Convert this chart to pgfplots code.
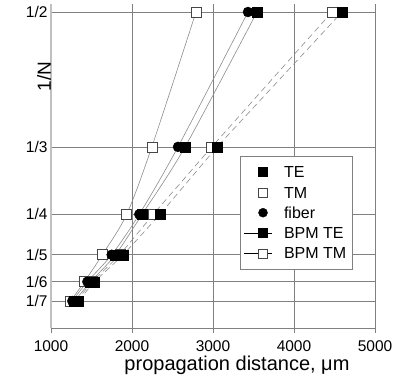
\documentclass[border=0pt]{standalone}
\usepackage{pgfplots}
\pgfplotsset{compat=1.18}
\usepackage{fontspec}
\setmainfont{Liberation Sans}
\definecolor{gridgray}{RGB}{128,128,128}
\definecolor{axgray}{RGB}{192,192,192}
\definecolor{linegray}{RGB}{140,140,140}
\definecolor{mkgray}{RGB}{70,70,70}
\begin{document}
\begin{tikzpicture}
\begin{axis}[
  scale only axis, width=324pt, height=324pt,
  xmin=1000, xmax=5000, ymin=0.1095, ymax=0.5099,
  axis x line*=bottom, axis y line*=left,
  x axis line style={draw=gridgray, line width=0.6pt, -},
  y axis line style={draw=axgray, line width=1.6pt, -},
  xtick={1000,2000,3000,4000,5000},
  ytick={0.142857,0.166667,0.2,0.25,0.333333,0.5},
  yticklabels={1/7,1/6,1/5,1/4,1/3,1/2},
  grid=major, major grid style={draw=gridgray, line width=0.6pt},
  xtick align=outside, major tick length=5pt,
  x tick style={draw=gridgray, line width=0.6pt},
  y tick style={draw=none},
  /pgf/number format/.cd, 1000 sep={}, assume math mode=true, /pgfplots/.cd,
  tick label style={font=\fontsize{15.5}{18}\selectfont, text=black},
  xticklabel style={yshift=-4pt},
  xlabel={propagation distance, μm},
  xlabel style={font=\fontsize{20}{24}\selectfont, at={(axis description cs:0.574,0)}, anchor=base, yshift=-42pt},
  ylabel={1/N},
  ylabel style={font=\fontsize{19}{23}\selectfont, at={(axis description cs:0,0.832)}, anchor=base, xshift=-18pt},
  legend style={at={(axis description cs:0.582,0.531)}, anchor=north west, draw=gridgray, fill=white,
    font=\fontsize{16}{19}\selectfont, row sep=0pt, inner xsep=4pt, inner ysep=5.8pt,
    nodes={text height=13.8pt, text depth=2.5pt, inner sep=2pt}},
  legend cell align=left,
]
% fit lines
\addplot[linegray, line width=0.6pt, smooth, forget plot] coordinates {(1243,0.142857) (1412,0.166667) (1634,0.2) (1934,0.25) (2245,0.333333) (2790,0.5)};
\addplot[linegray, line width=0.6pt, smooth, forget plot] coordinates {(1263,0.142857) (1449,0.166667) (1749,0.2) (2090,0.25) (2568,0.333333) (3432,0.5)};
\addplot[linegray, line width=0.6pt, smooth, forget plot] coordinates {(1290,0.142857) (1490,0.166667) (1795,0.2) (2125,0.25) (2655,0.333333) (3543,0.5)};
\addplot[linegray, line width=0.6pt, dashed, dash pattern=on 6pt off 4pt, forget plot] coordinates {(1310,0.142857) (1510,0.166667) (1850,0.2) (2263,0.25) (2985,0.333333) (4469,0.5)};
\addplot[linegray, line width=0.6pt, dashed, dash pattern=on 6pt off 4pt, forget plot] coordinates {(1337,0.142857) (1535,0.166667) (1893,0.2) (2346,0.25) (3050,0.333333) (4593,0.5)};
% BPM TM
\addplot[only marks, mark=square*, mark size=5pt, mark options={draw=mkgray, fill=white, line width=0.6pt}, forget plot] coordinates {(1310,0.142857) (1510,0.166667) (1850,0.2) (2263,0.25) (2985,0.333333) (4469,0.5)};
% BPM TE
\addplot[only marks, mark=square*, mark size=5pt, mark options={draw=black, fill=black}, forget plot] coordinates {(1337,0.142857) (1535,0.166667) (1893,0.2) (2346,0.25) (3050,0.333333) (4593,0.5)};
% TM
\addplot[only marks, mark=square*, mark size=5pt, mark options={draw=mkgray, fill=white, line width=0.6pt}, forget plot] coordinates {(1243,0.142857) (1412,0.166667) (1634,0.2) (1934,0.25) (2245,0.333333) (2790,0.5)};
% fiber
\addplot[only marks, mark=*, mark size=5pt, mark options={draw=black, fill=black}, forget plot] coordinates {(1263,0.142857) (1449,0.166667) (1749,0.2) (2090,0.25) (2568,0.333333) (3432,0.5)};
% TE
\addplot[only marks, mark=square*, mark size=5pt, mark options={draw=black, fill=black}, forget plot] coordinates {(1290,0.142857) (1490,0.166667) (1795,0.2) (2125,0.25) (2655,0.333333) (3543,0.5)};
% legend
\addlegendimage{legend image code/.code={\path[draw=none,fill=none] (0pt,0pt) rectangle (38pt,0pt); \draw[black, fill=black, mark size=4.5pt] plot[mark=square*] coordinates {(19pt,0pt)};}}
\addlegendentry{TE}
\addlegendimage{legend image code/.code={\path[draw=none,fill=none] (0pt,0pt) rectangle (38pt,0pt); \draw[mkgray, fill=white, line width=0.6pt, mark size=4.5pt] plot[mark=square*] coordinates {(19pt,0pt)};}}
\addlegendentry{TM}
\addlegendimage{legend image code/.code={\path[draw=none,fill=none] (0pt,0pt) rectangle (38pt,0pt); \draw[black, fill=black, mark size=4.5pt] plot[mark=*] coordinates {(19pt,0pt)};}}
\addlegendentry{fiber}
\addlegendimage{legend image code/.code={\path[draw=none,fill=none] (0pt,0pt) rectangle (38pt,0pt); \draw[black, line width=0.5pt] (0pt,0pt) -- (28pt,0pt); \draw[black, fill=black, mark size=4.5pt] plot[mark=square*] coordinates {(19pt,0pt)};}}
\addlegendentry{BPM TE}
\addlegendimage{legend image code/.code={\path[draw=none,fill=none] (0pt,0pt) rectangle (38pt,0pt); \draw[black, line width=0.5pt] (0pt,0pt) -- (28pt,0pt); \draw[mkgray, fill=white, line width=0.6pt, mark size=4.5pt] plot[mark=square*] coordinates {(19pt,0pt)};}}
\addlegendentry{BPM TM}
\end{axis}
\pgfresetboundingbox
\path (-51pt,-54pt) rectangle (347pt,328pt);
\end{tikzpicture}
\end{document}
